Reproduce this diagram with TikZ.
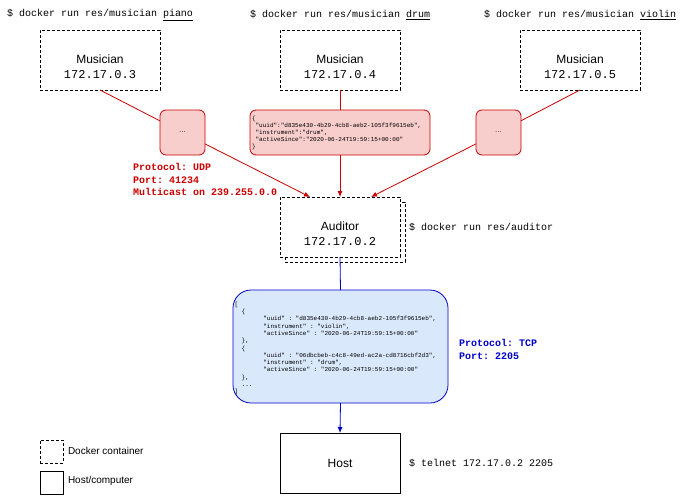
\documentclass[tikz,border=0pt]{standalone}
\usepackage{fontspec}
\setmainfont{Liberation Sans}
\setmonofont{Liberation Mono}
\usetikzlibrary{arrows.meta,calc}

\definecolor{udpred}{RGB}{204,0,0}
\definecolor{msgfill}{RGB}{248,206,204}
\definecolor{tcpblue}{RGB}{0,0,204}
\definecolor{listfill}{RGB}{218,232,252}

\newcommand\pad[1]{\phantom{#1}}

\tikzset{
  every node/.style={inner sep=0pt, outer sep=0pt},
  container/.style={draw, dash pattern=on 3pt off 2pt, line width=0.8pt, fill=white,
    minimum width=120, minimum height=60},
  boxlabel/.style={align=center, font=\fontsize{12}{15}\selectfont},
  hostbox/.style={draw, line width=0.8pt, fill=white, minimum width=120, minimum height=60,
    font=\fontsize{12}{15}\selectfont},
  dots/.style={draw=udpred, fill=msgfill, rounded corners=6pt, line width=0.8pt,
    minimum width=45, minimum height=45, text=black!75, font=\fontsize{8}{10}\selectfont},
  msgbox/.style={draw=udpred, fill=msgfill, rounded corners=6pt, line width=0.8pt,
    text width=176, inner xsep=2pt, minimum height=45, align=left,
    font=\ttfamily\fontsize{6}{7}\selectfont},
  listbox/.style={draw=tcpblue, fill=listfill, rounded corners=18pt, line width=0.8pt,
    minimum width=215, minimum height=113},
  listtext/.style={anchor=west, align=left, font=\ttfamily\fontsize{6}{7.3}\selectfont},
  cmd/.style={anchor=west, font=\ttfamily\fontsize{10}{12}\selectfont},
  proto/.style={anchor=west, align=left, font=\ttfamily\bfseries\fontsize{10}{12.5}\selectfont},
  legendtext/.style={anchor=west, font=\fontsize{10}{12}\selectfont},
  udpline/.style={draw=udpred, line width=0.8pt},
  tcpline/.style={draw=tcpblue, line width=0.8pt},
  tip/.style={-{Latex[length=6pt,width=5pt]}},
}

\begin{document}
\begin{tikzpicture}[x=1pt, y=-1pt]
\useasboundingbox (0,0) rectangle (682,495);

% shell commands above each musician
\node[cmd] (c1) at (7,15)   {\$ docker run res/musician \underline{piano}};
\node[cmd] (c2) at (250,15) {\$ docker run res/musician \underline{drum}};
\node[cmd] (c3) at (484,15) {\$ docker run res/musician \underline{violin}};

% musician containers
\node[container] (m1) at (100,60) {};
\node[container] (m2) at (340,60) {};
\node[container] (m3) at (580,60) {};
\node[boxlabel] (m1t) at (100,66.5) {Musician\\{\ttfamily 172.17.0.3}};
\node[boxlabel] (m2t) at (340,66.5) {Musician\\{\ttfamily 172.17.0.4}};
\node[boxlabel] (m3t) at (580,66.5) {Musician\\{\ttfamily 172.17.0.5}};

% auditor container (stacked look)
\draw[dash pattern=on 3pt off 2pt, line width=0.8pt] (285,202) rectangle (405,262);
\node[container] (aud) at (340,227) {};
\node[boxlabel] (audt) at (340,233.5) {Auditor\\{\ttfamily 172.17.0.2}};
\node[cmd] (audcmd) at (409,227) {\$ docker run res/auditor};

\coordinate (audL) at ($(aud.north)+(-30,0)$);
\coordinate (audR) at ($(aud.north)+(31,0)$);

% UDP datagrams
\node[dots] (u1) at (182.5,132.5) {...};
\node[dots] (u3) at (498.5,132.5) {...};
\node[msgbox] (msg) at (340,132.5) {%
\{\\
\pad{x}"uuid":"d835e430-4b29-4cb8-aeb2-105f3f9615eb",\\
\pad{x}"instrument":"drum",\\
\pad{x}"activeSince":"2020-06-24T19:59:15+00:00"\\
\}};

\draw[udpline] (m1.south) -- (u1);
\draw[udpline, tip] (u1) -- (audL);
\draw[udpline] (m2.south) -- (msg.north);
\draw[udpline, tip] (msg.south) -- (aud.north);
\draw[udpline] (m3.south) -- (u3);
\draw[udpline, tip] (u3) -- (audR);

\node[proto, text=udpred] (udp) at (133,179.5)
  {Protocol: UDP\\Port: 41234\\Multicast on 239.255.0.0};

% TCP response
\node[listbox] (list) at (340.5,346.5) {};
\node[listtext] (listt) at (234.5,348.5) {%
\symbol{91}\\
\pad{xx}\{\\
\pad{xxxxxxxx}"uuid" : "d835e430-4b29-4cb8-aeb2-105f3f9615eb",\\
\pad{xxxxxxxx}"instrument" : "violin",\\
\pad{xxxxxxxx}"activeSince" : "2020-06-24T19:59:15+00:00"\\
\pad{xx}\},\\
\pad{xx}\{\\
\pad{xxxxxxxx}"uuid" : "06dbcbeb-c4c8-49ed-ac2a-cd8716cbf2d3",\\
\pad{xxxxxxxx}"instrument" : "drum",\\
\pad{xxxxxxxx}"activeSince" : "2020-06-24T19:59:15+00:00"\\
\pad{xx}\},\\
\pad{xx}...\\
\symbol{93}};

\node[proto, text=tcpblue, font=\ttfamily\bfseries\fontsize{10}{13}\selectfont] (tcp) at (459,349.5)
  {Protocol: TCP\\Port: 2205};

% host
\node[hostbox] (host) at (340,463) {Host};
\node[cmd] (telnet) at (409,463) {\$ telnet 172.17.0.2 2205};

\draw[tcpline] (aud.south) -- (list.north);
\draw[tcpline, tip] (list.south) -- (host.north);

% legend
\node[draw, dash pattern=on 3pt off 2pt, line width=0.8pt, minimum size=23] (lg1) at (51.5,451.5) {};
\node[legendtext] (lt1) at (68,451) {Docker container};
\node[draw, line width=0.8pt, minimum size=23] (lg2) at (51.5,482.5) {};
\node[legendtext] (lt2) at (68,481) {Host/computer};
\end{tikzpicture}
\end{document}
